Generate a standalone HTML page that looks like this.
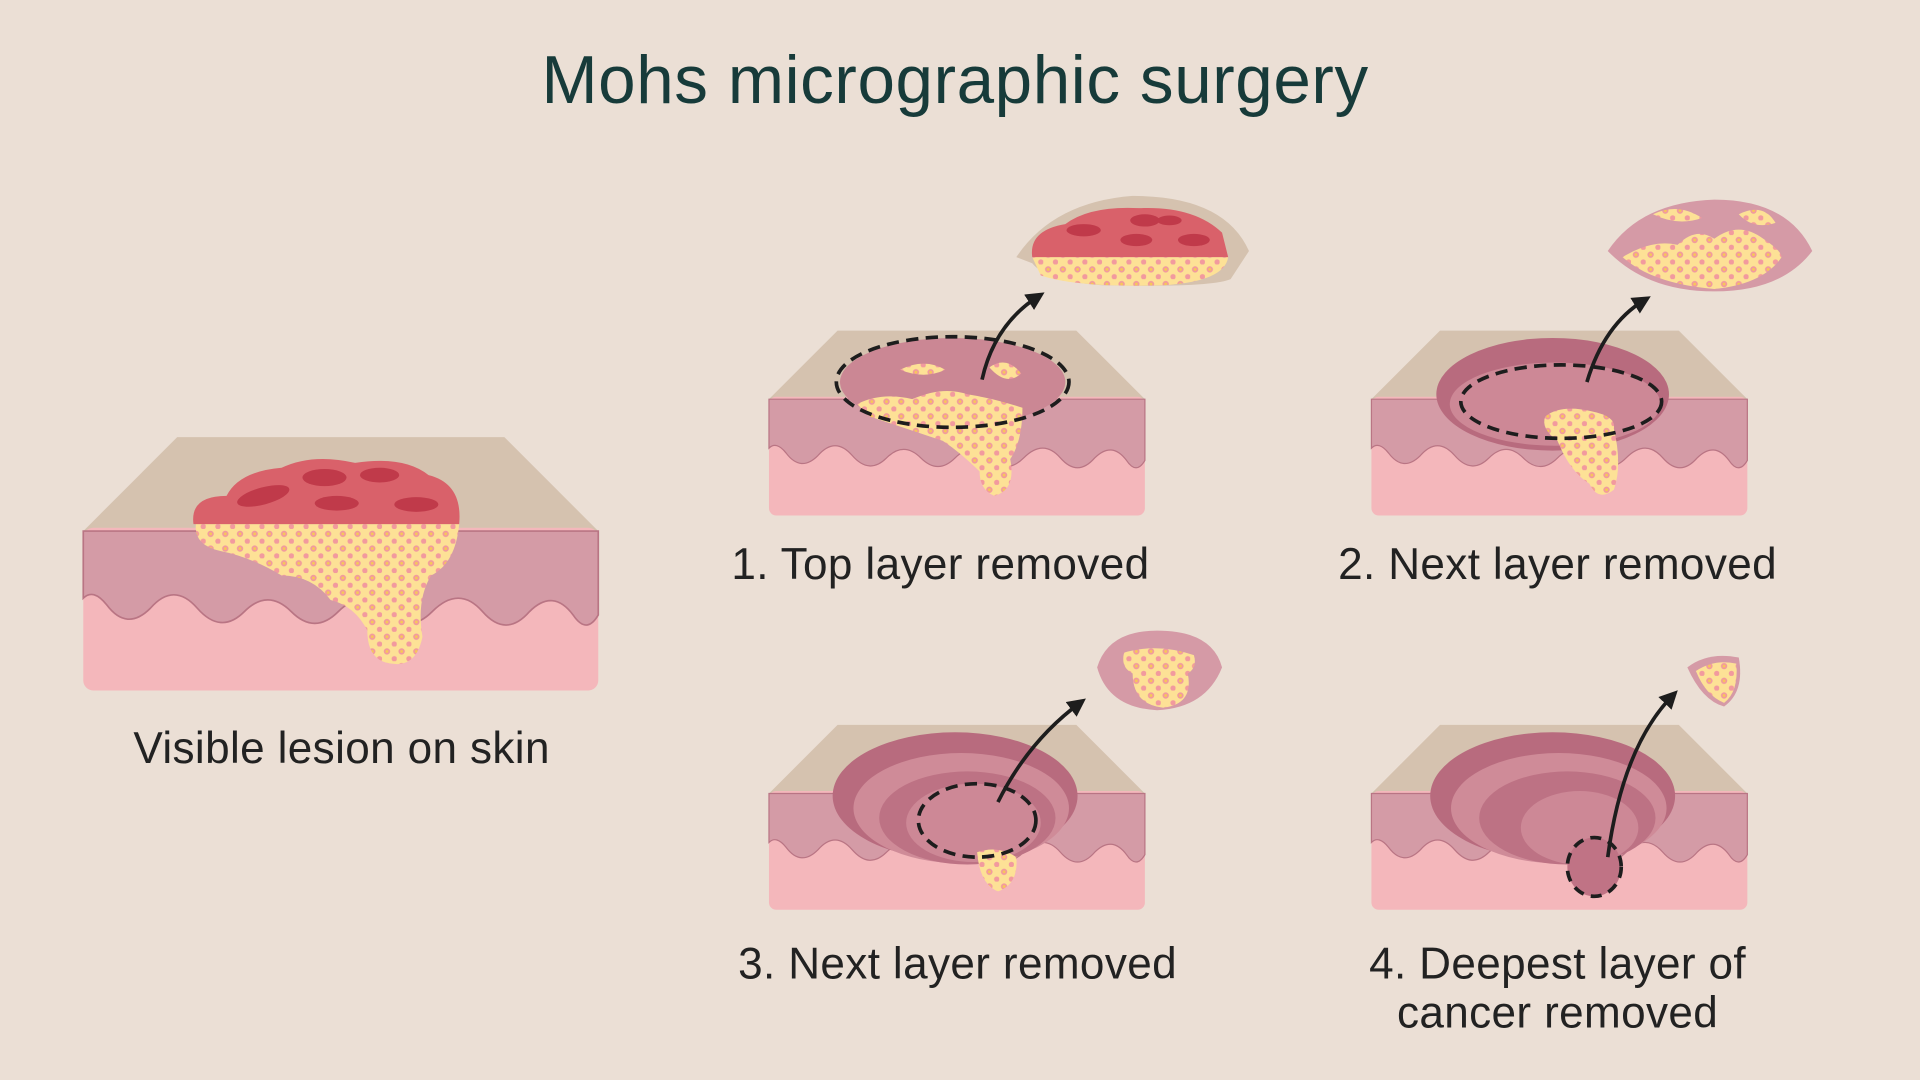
<!DOCTYPE html>
<html><head><meta charset="utf-8"><style>
html,body{margin:0;padding:0;background:#ebdfd5;}
svg{display:block}
text{font-family:"Liberation Sans",sans-serif;}
</style></head><body>
<svg width="1920" height="1080" viewBox="0 0 1568 882" xmlns="http://www.w3.org/2000/svg">
<defs>
<g id="blk">
<polygon points="0,56 56,0 251,0 307,56" fill="#d5c2af"/>
<rect x="0" y="54" width="307" height="97" rx="6" fill="#f4b7bb"/>
<path d="M0,56 L307,56 L307,106 Q300,118 292,106 Q280,90 266,104 Q252,120 238,104 Q224,88 208,104 Q194,118 180,104 Q166,90 152,104 Q138,118 124,104 Q110,90 96,104 Q82,118 68,102 Q54,86 40,102 Q26,116 14,100 Q6,90 0,96 Z" fill="#d49ba6" stroke="#b97584" stroke-width="1"/>
</g>
<pattern id="dots" width="12" height="12" patternUnits="userSpaceOnUse">
<rect width="12" height="12" fill="#fde196"/>
<circle cx="4" cy="4" r="2.6" fill="#f29a9e"/><circle cx="4" cy="4" r="1.2" fill="#f7c65a"/>
<circle cx="10" cy="10" r="2.2" fill="#f29a9e"/>
</pattern>
<marker id="ah" viewBox="0 0 10 10" refX="6" refY="5" markerWidth="5" markerHeight="5" orient="auto"><path d="M0,0 L10,5 L0,10 Z" fill="#1d1d1d"/></marker>
</defs>

<text x="780" y="84" text-anchor="middle" font-size="55" fill="#173b3a" letter-spacing="0.5">Mohs micrographic surgery</text>

<!-- main block -->
<use href="#blk" transform="translate(68,357) scale(1.37)"/>
<path d="M160,428 L375,428 Q372,460 352,470 Q340,490 345,520 Q340,545 320,542 Q300,540 300,515 Q290,495 270,490 Q255,470 230,470 Q205,455 180,450 Q158,445 160,428 Z" fill="url(#dots)"/>
<path d="M158,428 Q155,405 185,405 Q195,385 230,382 Q255,370 290,378 Q330,372 350,388 Q378,395 375,428 Z" fill="#d9616a"/>
<g fill="#c03a4a"><ellipse cx="215" cy="405" rx="22" ry="7" transform="rotate(-15 215 405)"/><ellipse cx="265" cy="390" rx="18" ry="7"/><ellipse cx="310" cy="388" rx="16" ry="6"/><ellipse cx="275" cy="411" rx="18" ry="6"/><ellipse cx="340" cy="412" rx="18" ry="6"/></g>
<text x="279" y="623" text-anchor="middle" font-size="36" fill="#222" letter-spacing="0.3">Visible lesion on skin</text>

<!-- panel 1 -->
<use href="#blk" transform="translate(628,270)"/>
<ellipse cx="778" cy="312" rx="92" ry="36" fill="#cb8794"/>
<path d="M700,330 Q720,320 745,326 Q770,315 790,322 Q810,325 835,333 Q835,360 825,375 Q830,400 812,405 Q800,400 800,385 Q785,370 770,360 Q740,350 710,340 Z" fill="url(#dots)"/>
<path d="M735,302 Q755,292 772,302 Q755,310 735,302Z M808,300 Q822,290 834,305 Q822,316 808,300Z" fill="url(#dots)"/>
<ellipse cx="778" cy="312" rx="95" ry="37" fill="none" stroke="#1d1d1d" stroke-width="3" stroke-dasharray="10,6"/>
<path d="M802,310 Q812,265 848,242" fill="none" stroke="#1d1d1d" stroke-width="3" marker-end="url(#ah)"/>
<path d="M830,210 Q860,165 925,160 Q1000,160 1020,205 L1005,228 Q990,235 900,233 Q855,230 843,215 Z" fill="#d5c2af"/>
<path d="M843,210 L1003,210 Q1000,230 950,233 Q880,235 850,225 Z" fill="url(#dots)"/>
<path d="M843,210 Q840,188 870,183 Q890,168 930,170 Q975,168 998,190 L1003,210 Z" fill="#d9616a"/>
<g fill="#c03a4a"><ellipse cx="885" cy="188" rx="14" ry="5"/><ellipse cx="935" cy="180" rx="12" ry="5"/><ellipse cx="928" cy="196" rx="13" ry="5"/><ellipse cx="975" cy="196" rx="13" ry="5"/><ellipse cx="955" cy="180" rx="10" ry="4"/></g>
<text x="768" y="473" text-anchor="middle" font-size="36" fill="#222" letter-spacing="0.3">1. Top layer removed</text>

<!-- panel 2 -->
<use href="#blk" transform="translate(1120,270)"/>
<ellipse cx="1268" cy="322" rx="95" ry="46" fill="#b86b7e"/>
<ellipse cx="1270" cy="330" rx="86" ry="34" fill="#cd8896"/>
<path d="M1262,340 Q1275,330 1300,336 Q1320,340 1318,350 Q1325,380 1318,400 Q1305,410 1298,395 Q1282,385 1272,360 Q1258,350 1262,340Z" fill="url(#dots)"/>
<ellipse cx="1275" cy="328" rx="82" ry="30" fill="none" stroke="#1d1d1d" stroke-width="3" stroke-dasharray="10,6"/>
<path d="M1296,312 Q1310,265 1343,245" fill="none" stroke="#1d1d1d" stroke-width="3" marker-end="url(#ah)"/>
<path d="M1313,205 Q1340,165 1400,163 Q1460,163 1480,205 Q1455,238 1400,238 Q1345,238 1313,205Z" fill="#d59aa6"/>
<path d="M1325,210 Q1350,195 1370,200 Q1385,185 1400,195 Q1420,180 1440,195 Q1455,205 1455,210 Q1440,232 1400,236 Q1350,232 1325,210Z" fill="url(#dots)"/>
<path d="M1350,175 Q1370,165 1390,178 Q1370,185 1350,175Z M1420,175 Q1440,165 1450,182 Q1432,188 1420,175Z" fill="url(#dots)"/>
<text x="1272" y="473" text-anchor="middle" font-size="36" fill="#222" letter-spacing="0.3">2. Next layer removed</text>

<!-- panel 3 -->
<use href="#blk" transform="translate(628,592)"/>
<ellipse cx="780" cy="650" rx="100" ry="52" fill="#b86b7e"/>
<ellipse cx="785" cy="660" rx="88" ry="45" fill="#cf8b98"/>
<ellipse cx="790" cy="668" rx="72" ry="38" fill="#bd7284"/>
<ellipse cx="795" cy="672" rx="55" ry="32" fill="#cd8896"/>
<path d="M798,696 Q815,690 830,700 Q832,722 815,728 Q800,722 798,696Z" fill="url(#dots)"/>
<ellipse cx="798" cy="670" rx="48" ry="30" fill="none" stroke="#1d1d1d" stroke-width="3" stroke-dasharray="10,6"/>
<path d="M815,655 Q840,605 882,574" fill="none" stroke="#1d1d1d" stroke-width="3" marker-end="url(#ah)"/>
<path d="M896,545 Q905,515 945,515 Q990,515 998,545 Q985,578 945,580 Q905,578 896,545Z" fill="#d59aa6"/>
<path d="M918,533 Q945,525 975,535 Q978,545 970,550 Q975,575 950,578 Q925,575 925,550 Q915,545 918,533Z" fill="url(#dots)"/>
<text x="782" y="799" text-anchor="middle" font-size="36" fill="#222" letter-spacing="0.3">3. Next layer removed</text>

<!-- panel 4 -->
<use href="#blk" transform="translate(1120,592)"/>
<ellipse cx="1268" cy="650" rx="100" ry="52" fill="#b86b7e"/>
<ellipse cx="1273" cy="660" rx="88" ry="45" fill="#cf8b98"/>
<ellipse cx="1280" cy="668" rx="72" ry="38" fill="#bd7284"/>
<ellipse cx="1290" cy="676" rx="48" ry="30" fill="#cd8896"/>
<ellipse cx="1302" cy="708" rx="22" ry="24" fill="#c07385"/>
<ellipse cx="1302" cy="708" rx="22" ry="24" fill="none" stroke="#1d1d1d" stroke-width="3" stroke-dasharray="9,6"/>
<path d="M1313,700 Q1325,610 1366,568" fill="none" stroke="#1d1d1d" stroke-width="3" marker-end="url(#ah)"/>
<path d="M1378,545 Q1395,532 1420,537 Q1425,565 1408,577 Q1390,572 1378,545Z" fill="#d59aa6"/>
<path d="M1385,548 Q1400,538 1418,542 Q1420,565 1408,574 Q1393,568 1385,548Z" fill="url(#dots)"/>
<text x="1272" y="799" text-anchor="middle" font-size="36" fill="#222" letter-spacing="0.3">4. Deepest layer of</text>
<text x="1272" y="839" text-anchor="middle" font-size="36" fill="#222" letter-spacing="0.3">cancer removed</text>
</svg>
</body></html>
